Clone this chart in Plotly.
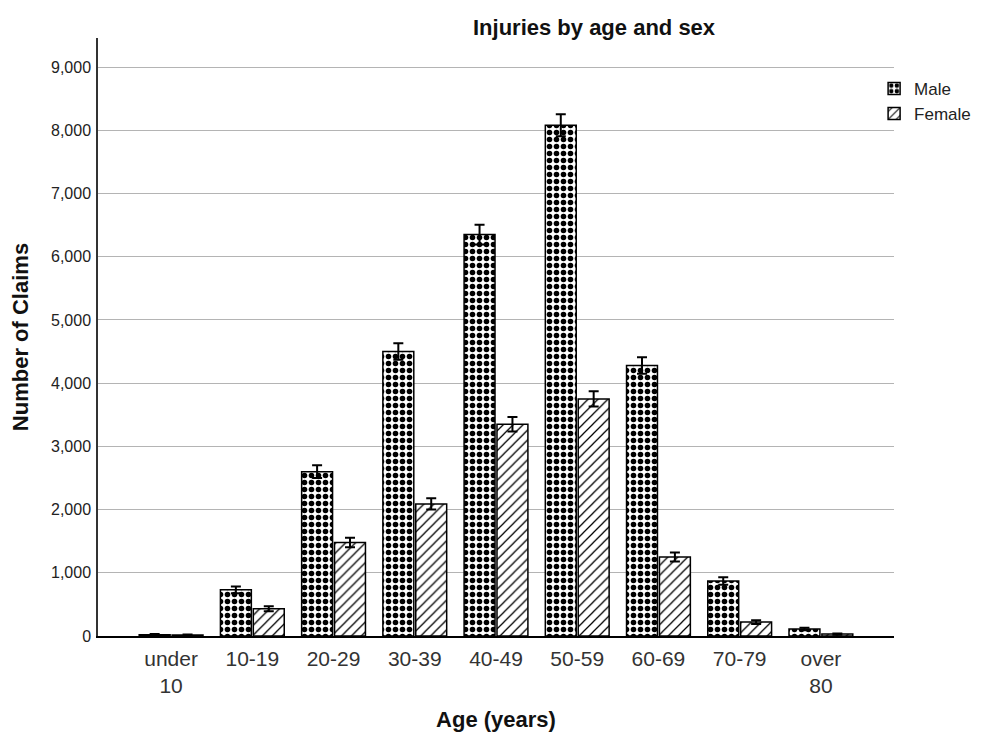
import plotly.graph_objects as go

categories = ["under<br>10", "10-19", "20-29", "30-39", "40-49", "50-59", "60-69", "70-79", "over<br>80"]
male = [20, 730, 2600, 4500, 6350, 8080, 4280, 870, 110]
female = [15, 430, 1480, 2090, 3350, 3750, 1250, 220, 30]
male_err = [10, 55, 100, 130, 155, 175, 130, 60, 20]
female_err = [8, 40, 75, 90, 115, 120, 70, 30, 10]
y_ticks = [0, 1000, 2000, 3000, 4000, 5000, 6000, 7000, 8000, 9000]

FONT = "Liberation Sans, Arial, sans-serif"

fig = go.Figure()
fig.add_trace(go.Bar(
    name="Male", x=list(range(len(categories))), y=male,
    marker=dict(color="white", line=dict(color="black", width=1.5),
                pattern=dict(shape=".", fgcolor="black", bgcolor="white", size=7, solidity=0.5, fgopacity=1)),
    error_y=dict(type="data", array=male_err, visible=True, color="black", thickness=2, width=5),
))
fig.add_trace(go.Bar(
    name="Female", x=list(range(len(categories))), y=female,
    marker=dict(color="white", line=dict(color="black", width=1.5),
                pattern=dict(shape="/", fgcolor="black", bgcolor="white", size=7, solidity=0.18, fgopacity=1)),
    error_y=dict(type="data", array=female_err, visible=True, color="black", thickness=2, width=5),
))

# page body adds an 8px offset; figure sized to fit the window
fig.update_layout(
    width=980, height=732,
    margin=dict(l=90, r=90, t=30, b=104),
    paper_bgcolor="white", plot_bgcolor="white",
    barmode="group", bargap=0.19, bargroupgap=0.06,
    font=dict(family=FONT, color="#222"),
    title=dict(text="<b>Injuries by age and sex</b>", x=0.598, xref="container",
               xanchor="center", y=0.974, yref="container", yanchor="middle",
               font=dict(size=22, color="#111", family=FONT)),
    showlegend=True,
    legend=dict(x=0.975, xanchor="left", y=0.945, yanchor="top", font=dict(size=17, color="#222"),
                bgcolor="rgba(0,0,0,0)", tracegroupgap=0, itemwidth=30),
    xaxis=dict(
        tickmode="array", tickvals=list(range(len(categories))), ticktext=categories,
        range=[-0.9, 8.9], showgrid=False, zeroline=False, automargin=False,
        showline=True, linecolor="black", linewidth=1.5,
        ticks="", tickfont=dict(size=21, color="#333"), ticklabelstandoff=3,
        title=dict(text="<b>Age (years)</b>", font=dict(size=22, color="#111"), standoff=15),
    ),
    yaxis=dict(
        range=[0, 9460], tickmode="array", tickvals=y_ticks,
        ticktext=[f"{v:,}" for v in y_ticks], automargin=False,
        showgrid=True, gridcolor="#b4b4b4", gridwidth=1,
        zeroline=False, showline=True, linecolor="#333", linewidth=1.5,
        ticks="", tickfont=dict(size=16, color="#222"), ticklabelstandoff=2,
        title=dict(text="<b>Number of Claims</b>", font=dict(size=22, color="#111"), standoff=18),
    ),
)

fig.write_html("out.html")
